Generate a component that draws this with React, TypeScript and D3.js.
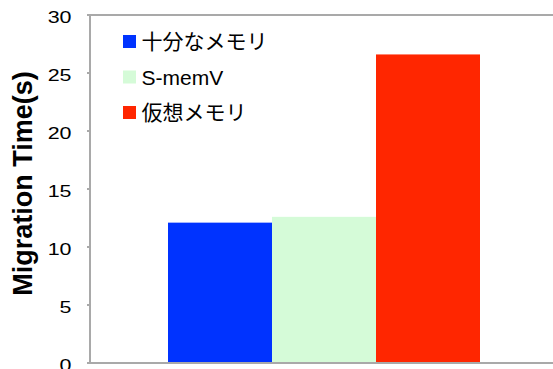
import React from "react";
import * as d3 from "d3";

const categories = ["十分なメモリ", "S-memV", "仮想メモリ"];
const values = [12.1, 12.6, 26.6];
const colors = ["#0033ff", "#d5fbd8", "#ff2600"];
const yTicks = [0, 5, 10, 15, 20, 25, 30];

export default function App() {
  const W = 553, H = 369;
  const left = 90, top = 15, right = 558, bottom = 363;
  const y = d3.scaleLinear().domain([0, 30]).range([bottom, top]);
  const x = d3.scaleBand<string>().domain(categories).range([168, 480]).padding(0);
  return (
    <svg width={W} height={H} style={{ position: "absolute", left: 0, top: 0, background: "#fff" }}
      fontFamily="'Liberation Sans', Arial, sans-serif">
      {categories.map((c, i) => (
        <rect key={c} x={x(c)} y={y(values[i])} width={x.bandwidth()} height={bottom - y(values[i])} fill={colors[i]} />
      ))}
      <path d={`M${right},${top}H${left}V${bottom}H${right}`} fill="none" stroke="#a9a9a9" strokeWidth={2} />
      {yTicks.map(t => (
        <g key={t}>
          <line x1={left - 3} x2={left} y1={y(t)} y2={y(t)} stroke="#a9a9a9" strokeWidth={2} />
          <text transform={`translate(71.5,${y(t) + 8.4}) scale(1.3,1)`} textAnchor="end" fontSize={16.5} fill="#000">{t}</text>
        </g>
      ))}
      <text transform={`translate(32,183.5) rotate(-90)`} textAnchor="middle"
        fontSize={27} fontWeight="bold" fill="#000">Migration Time(s)</text>
      {categories.map((c, i) => (
        <g key={c} transform={`translate(123,${41.5 + i * 35.5})`}>
          <rect x={0} y={-6.5} width={13} height={13} fill={colors[i]} />
          <text x={18.5} y={0} dy="0.36em" fontSize={21} fill="#000"
            fontFamily="'Liberation Sans', 'Noto Sans CJK JP', sans-serif">{c}</text>
        </g>
      ))}
    </svg>
  );
}
